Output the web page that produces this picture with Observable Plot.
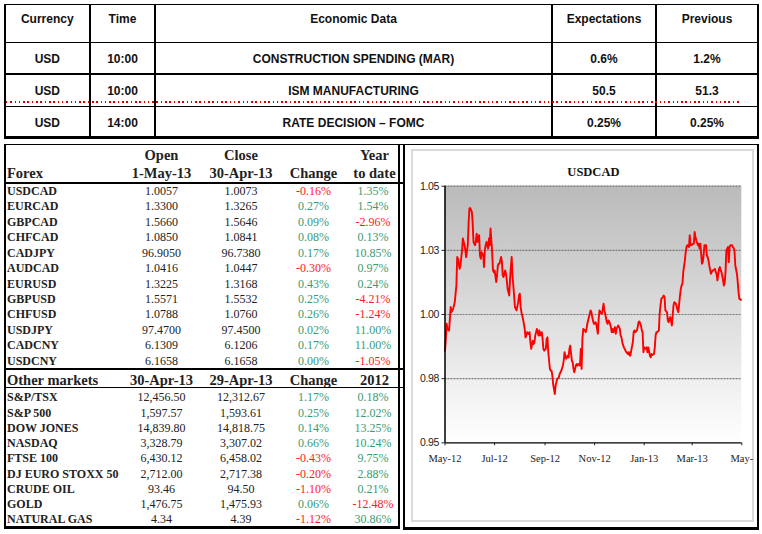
<!DOCTYPE html>
<html><head><meta charset="utf-8">
<script src="https://cdn.jsdelivr.net/npm/d3@7"></script>
<script src="https://cdn.jsdelivr.net/npm/@observablehq/plot@0.6"></script>
<style>
html,body{margin:0;padding:0;background:#fff;}
#page{position:relative;width:762px;height:534px;overflow:hidden;background:#fff;}
.t{position:absolute;white-space:nowrap;line-height:1;}
.l{position:absolute;background:#000;}
#chart{position:absolute;left:413px;top:150px;}
#chart g[aria-label="y-axis tick label"]{letter-spacing:-0.35px;}
</style></head><body><div id="page"></div>
<script>
// ---------- Economic calendar ----------
const econHeaders = ["Currency","Time","Economic Data","Expectations","Previous"];
const econCurrency = ["USD","USD","USD"];
const econTime = ["10:00","10:00","14:00"];
const econEvent = ["CONSTRUCTION SPENDING (MAR)","ISM MANUFACTURING","RATE DECISION – FOMC"];
const econExpectations = ["0.6%","50.5","0.25%"];
const econPrevious = ["1.2%","51.3","0.25%"];

// ---------- Forex ----------
const forexHeader1 = ["","Open","Close","","Year"];
const forexHeader2 = ["Forex","1-May-13","30-Apr-13","Change","to date"];
const forexNames = ["USDCAD","EURCAD","GBPCAD","CHFCAD","CADJPY","AUDCAD","EURUSD","GBPUSD","CHFUSD","USDJPY","CADCNY","USDCNY"];
const forexOpen = [1.0057,1.3300,1.5660,1.0850,96.9050,1.0416,1.3225,1.5571,1.0788,97.4700,6.1309,6.1658];
const forexClose = [1.0073,1.3265,1.5646,1.0841,96.7380,1.0447,1.3168,1.5532,1.0760,97.4500,6.1206,6.1658];
const forexChange = [-0.16,0.27,0.09,0.08,0.17,-0.30,0.43,0.25,0.26,0.02,0.17,0.00];
const forexYtd = [1.35,1.54,-2.96,0.13,10.85,0.97,0.24,-4.21,-1.24,11.00,11.00,-1.05];

// ---------- Other markets ----------
const marketsHeader = ["Other markets","30-Apr-13","29-Apr-13","Change","2012"];
const marketNames = ["S&P/TSX","S&P 500","DOW JONES","NASDAQ","FTSE 100","DJ EURO STOXX 50","CRUDE OIL","GOLD","NATURAL GAS"];
const marketsLatest = [12456.50,1597.57,14839.80,3328.79,6430.12,2712.00,93.46,1476.75,4.34];
const marketsPrior = [12312.67,1593.61,14818.75,3307.02,6458.02,2717.38,94.50,1475.93,4.39];
const marketsChange = [1.17,0.25,0.14,0.66,-0.43,-0.20,-1.10,0.06,-1.12];
const markets2012 = [0.18,12.02,13.25,10.24,9.75,2.88,0.21,-12.48,30.86];

// ---------- USDCAD chart: [day of month, rate] ----------
const usdcadTitle = "USDCAD";
const may12 = [[1,0.9859],[2,0.9905],[3,0.9964],[4,0.9944],[6,0.9937],[7,0.9983],[8,1.0029],[9,1.0009],[11,1.0022],[13,1.0048],[15,1.0113],[16,1.0224],[17,1.0217],[19,1.0178],[20,1.0191],[22,1.025],[23,1.0296],[25,1.027],[26,1.025],[27,1.0224],[29,1.027],[30,1.0354],[31,1.0413]];
const jun12 = [[1,1.0415],[3,1.04],[4,1.0361],[5,1.0283],[7,1.027],[8,1.0289],[9,1.0315],[10,1.0283],[12,1.0309],[13,1.023],[14,1.0217],[15,1.0243],[17,1.023],[18,1.0185],[19,1.025],[20,1.027],[21,1.0283],[23,1.0257],[24,1.0296],[25,1.027],[26,1.0335],[28,1.0243],[29,1.0172],[30,1.0165]];
const jul12 = [[1,1.0172],[3,1.0126],[4,1.0152],[5,1.0191],[6,1.0198],[7,1.0198],[9,1.0224],[10,1.0204],[11,1.0152],[12,1.0146],[14,1.0172],[15,1.0159],[16,1.0133],[17,1.01],[19,1.0074],[20,1.0139],[21,1.0185],[22,1.0224],[23,1.0152],[25,1.0074],[26,1.0029],[27,1.0022],[28,1.0016],[30,1.0048],[31,1.0074]];
const aug12 = [[1,1.0081],[2,1.0029],[3,1.0009],[4,0.9996],[6,0.9964],[7,0.9944],[8,0.9911],[9,0.9918],[10,0.9931],[12,0.9924],[13,0.9931],[14,0.9892],[15,0.9866],[17,0.9898],[18,0.9885],[19,0.9892],[20,0.9918],[22,0.9944],[23,0.9931],[24,0.9918],[25,0.9938],[26,0.9918],[28,0.9931],[29,0.9905],[30,0.9866],[31,0.9859]];
const sep12 = [[2,0.9866],[3,0.9905],[4,0.9911],[5,0.9853],[7,0.9788],[8,0.9781],[9,0.9781],[10,0.9762],[11,0.9729],[13,0.969],[14,0.9723],[15,0.9736],[16,0.9749],[18,0.9755],[19,0.9768],[20,0.9775],[21,0.9781],[23,0.9801],[24,0.982],[25,0.9853],[26,0.984],[27,0.9827],[29,0.984],[30,0.9833]];
const oct12 = [[1,0.9866],[2,0.9879],[4,0.982],[5,0.9814],[6,0.9788],[7,0.9775],[9,0.9801],[10,0.9807],[11,0.9801],[12,0.9807],[14,0.9801],[15,0.9866],[16,0.9788],[17,0.9905],[18,0.9944],[20,0.9938],[21,0.9931],[22,0.9944],[23,0.9964],[25,0.999],[26,1.0003],[27,1.0016],[28,1.0009],[29,0.999],[31,0.9964]];
const nov12 = [[1,0.9964],[2,0.997],[3,0.9964],[5,0.9925],[6,0.9983],[7,1.0016],[8,1.0009],[10,1.0003],[11,1.0022],[12,1.0042],[13,1.0016],[14,1.0003],[16,0.997],[17,0.9964],[18,0.9977],[19,0.9973],[21,0.9951],[22,0.9931],[23,0.9944],[24,0.9931],[26,0.9951],[27,0.9925],[28,0.9944],[29,0.9951],[30,0.9957]];
const dec12 = [[2,0.9944],[3,0.9918],[4,0.9911],[5,0.9892],[7,0.9872],[8,0.9866],[9,0.9859],[10,0.9853],[12,0.9846],[13,0.9853],[14,0.984],[15,0.984],[16,0.9859],[18,0.9892],[19,0.9931],[20,0.9938],[21,0.9931],[23,0.9938],[24,0.9951],[25,0.997],[26,0.9973],[28,0.9957],[29,0.9938],[30,0.9931],[31,0.9853]];
const jan13 = [[1,0.9872],[3,0.9866],[4,0.9872],[5,0.9853],[6,0.9872],[8,0.984],[9,0.9833],[10,0.9846],[11,0.9842],[13,0.9846],[14,0.9872],[15,0.9918],[16,0.9931],[17,0.9931],[19,0.9938],[20,1.0003],[21,1.0035],[22,1.0061],[24,1.0068],[25,1.0074],[26,1.0068],[27,1.0016],[29,1.0009],[30,0.9977],[31,0.997]];
const feb13 = [[1,0.9983],[2,0.999],[4,0.9957],[5,0.9996],[6,1.0035],[7,1.0048],[9,1.0042],[10,1.0029],[11,1.0016],[12,1.0009],[14,1.0074],[15,1.01],[16,1.0113],[17,1.012],[18,1.0165],[20,1.0211],[21,1.0243],[22,1.0263],[23,1.027],[25,1.0263],[26,1.0309],[27,1.027],[28,1.027]];
const mar13 = [[2,1.0276],[3,1.0276],[4,1.0322],[5,1.0302],[6,1.0289],[8,1.027],[9,1.0276],[10,1.0257],[11,1.0276],[13,1.0198],[14,1.0204],[15,1.023],[16,1.027],[18,1.027],[19,1.023],[20,1.0224],[21,1.0211],[22,1.0191],[24,1.0159],[25,1.0165],[26,1.0172],[27,1.0172],[29,1.0178],[30,1.0165],[31,1.0159]];
const apr13 = [[1,1.0133],[3,1.0178],[4,1.0185],[5,1.0172],[6,1.0165],[7,1.0152],[9,1.0113],[10,1.0126],[11,1.0165],[12,1.025],[14,1.0263],[15,1.0204],[16,1.0263],[17,1.027],[19,1.027],[20,1.0263],[21,1.0259],[22,1.025],[23,1.0191],[25,1.0159],[26,1.0126],[27,1.0087],[28,1.0061],[30,1.0057]];
const usdcadMonths = [[2012,4,may12],[2012,5,jun12],[2012,6,jul12],[2012,7,aug12],[2012,8,sep12],[2012,9,oct12],[2012,10,nov12],[2012,11,dec12],[2013,0,jan13],[2013,1,feb13],[2013,2,mar13],[2013,3,apr13]];
const yDomain = [0.95, 1.05];
const yTicks = [0.95, 0.975, 1.0, 1.025, 1.05];
const yTickLabels = ["0.95","0.98","1.00","1.03","1.05"];
const xDomain = ["2012-05-01","2013-05-01"];
const xTicks = ["2012-05-01","2012-07-01","2012-09-01","2012-11-01","2013-01-01","2013-03-01","2013-05-01"];
const xTickLabels = ["May-12","Jul-12","Sep-12","Nov-12","Jan-13","Mar-13","May-"];

// ---------- helpers ----------
const page = document.getElementById("page");
const SANS = "'Liberation Sans', Arial, sans-serif";
const SERIF = "'Liberation Serif', 'Times New Roman', serif";
const GREEN = "#3a9a72", RED = "#ff1a1a";
function txt(x, y, s, o) {
  const d = document.createElement("div");
  d.className = "t"; d.textContent = s;
  d.style.left = x + "px"; d.style.top = y + "px";
  d.style.fontFamily = o.family; d.style.fontSize = o.size + "px";
  d.style.fontWeight = o.weight || "normal"; d.style.color = o.color || "#111";
  d.style.lineHeight = "1";
  d.style.transform = o.align === "left" ? "translateY(-50%)" : "translate(-50%,-50%)";
  page.appendChild(d);
}
function hl(x1, x2, y, w, c) {
  const d = document.createElement("div"); d.className = "l";
  d.style.left = x1 + "px"; d.style.width = (x2 - x1) + "px";
  d.style.top = (y - w / 2) + "px"; d.style.height = w + "px";
  if (c) d.style.background = c;
  page.appendChild(d);
}
function vl(x, y1, y2, w) {
  const d = document.createElement("div"); d.className = "l";
  d.style.left = (x - w / 2) + "px"; d.style.width = w + "px";
  d.style.top = y1 + "px"; d.style.height = (y2 - y1) + "px";
  page.appendChild(d);
}

// ---------- top table ----------
const topCols = [47.3, 122.5, 353.5, 604, 707];
const topRowsY = [59.3, 90.7, 123.3];
econHeaders.forEach((h, i) => txt(topCols[i], 18.5, h, {family: SANS, size: 12, weight: "bold"}));
const econCols = [econCurrency, econTime, econEvent, econExpectations, econPrevious];
topRowsY.forEach((y, r) => econCols.forEach((col, c) => txt(topCols[c], y, col[r], {family: SANS, size: 12, weight: "bold"})));
[4.5, 42.3, 74, 106.7].forEach(y => hl(3.7, 759.3, y, 1.5));
hl(3.7, 759.3, 137.7, 2.7);
[4.7, 90, 155, 552.3, 656, 758.3].forEach(x => vl(x, 3.8, 139, 2));
{
  const d = document.createElement("div"); d.className = "l";
  d.style.left = "6px"; d.style.width = "735px"; d.style.top = "101px"; d.style.height = "1.5px";
  d.style.background = "repeating-linear-gradient(to right, #d40000 0 1.5px, transparent 1.5px 4.3px)";
  page.appendChild(d);
}

// ---------- lower-left tables ----------
const colX = [7, 161.5, 241, 313.5, 373];
forexHeader1.forEach((h, i) => { if (h) txt(colX[i] + (i === 4 ? 1.5 : 0), 155, h, {family: SERIF, size: 14.5, weight: "bold", color: "#222"}); });
forexHeader2.forEach((h, i) => txt(colX[i] + (i === 4 ? 1.5 : 0), 173, h, {family: SERIF, size: 14.5, weight: "bold", color: "#222", align: i === 0 ? "left" : "center"}));
forexNames.forEach((n, i) => {
  const y = 191 + i * 15.43;
  txt(colX[0], y, n, {family: SERIF, size: 12, weight: "bold", color: "#222", align: "left"});
  txt(colX[1], y, forexOpen[i].toFixed(4), {family: SERIF, size: 12, color: "#222"});
  txt(colX[2], y, forexClose[i].toFixed(4), {family: SERIF, size: 12, color: "#222"});
  txt(colX[3], y, forexChange[i].toFixed(2) + "%", {family: SERIF, size: 12, color: forexChange[i] < 0 ? RED : GREEN});
  txt(colX[4], y, forexYtd[i].toFixed(2) + "%", {family: SERIF, size: 12, color: forexYtd[i] < 0 ? RED : GREEN});
});
marketsHeader.forEach((h, i) => txt(colX[i] + (i === 4 ? 1.5 : 0), 380, h, {family: SERIF, size: 14.5, weight: "bold", color: "#222", align: i === 0 ? "left" : "center"}));
const fmt2 = d3.format(",.2f");
marketNames.forEach((n, i) => {
  const y = 397.3 + i * 15.25;
  txt(colX[0], y, n, {family: SERIF, size: 12, weight: "bold", color: "#222", align: "left"});
  txt(colX[1], y, fmt2(marketsLatest[i]), {family: SERIF, size: 12, color: "#222"});
  txt(colX[2], y, fmt2(marketsPrior[i]), {family: SERIF, size: 12, color: "#222"});
  txt(colX[3], y, marketsChange[i].toFixed(2) + "%", {family: SERIF, size: 12, color: marketsChange[i] < 0 ? RED : GREEN});
  txt(colX[4], y, markets2012[i].toFixed(2) + "%", {family: SERIF, size: 12, color: markets2012[i] < 0 ? RED : GREEN});
});
hl(3.7, 759.3, 144.4, 1.5);
vl(4.7, 144, 528.5, 1.8);
vl(398.8, 144, 528.5, 2);
hl(3.7, 404, 182.7, 2);
hl(3.7, 404, 368.7, 2.3);
hl(3.7, 404, 387.6, 1.3);
hl(3.7, 399.8, 527.6, 2.4);

// ---------- chart frame ----------
vl(403.8, 144, 529.5, 2);
vl(758.3, 144, 529.5, 2);
hl(403, 759.3, 528.4, 2.3);
{
  const d = document.createElement("div");
  d.style.cssText = "position:absolute;left:411px;top:149px;width:343px;height:373px;border:2.5px solid #dadada;box-sizing:border-box;";
  page.appendChild(d);
}

// ---------- USDCAD chart (Observable Plot) ----------
const usdcad = [];
for (const [yr, mo, arr] of usdcadMonths) for (const [day, v] of arr) usdcad.push({date: new Date(Date.UTC(yr, mo, day)), value: v});
const xTickDates = xTicks.map(s => new Date(s + "T00:00:00Z"));
const xLabelMap = new Map(xTickDates.map((d, i) => [+d, xTickLabels[i]]));
const yLabelMap = new Map(yTicks.map((v, i) => [v, yTickLabels[i]]));

function background(index, scales, values, dims) {
  const g = d3.create("svg:g");
  const grad = g.append("defs").append("linearGradient").attr("id", "usdcadBg")
    .attr("x1", 0).attr("y1", 0).attr("x2", 0).attr("y2", 1);
  grad.append("stop").attr("offset", "0%").attr("stop-color", "#bababa");
  grad.append("stop").attr("offset", "100%").attr("stop-color", "#ffffff");
  g.append("rect")
    .attr("x", dims.marginLeft).attr("y", dims.marginTop)
    .attr("width", dims.width - dims.marginLeft - dims.marginRight)
    .attr("height", dims.height - dims.marginTop - dims.marginBottom)
    .attr("fill", "url(#usdcadBg)");
  return g.node();
}

const chart = Plot.plot({
  width: 339, height: 370,
  marginLeft: 31.5, marginRight: 10.7, marginTop: 35.7, marginBottom: 77.7,
  style: {background: "transparent", overflow: "visible"},
  x: {type: "utc", domain: xDomain.map(s => new Date(s + "T00:00:00Z")), label: null},
  y: {domain: yDomain, label: null},
  marks: [
    background,
    Plot.ruleY(yTicks.filter(v => v > yDomain[0]), {stroke: "#777", strokeWidth: 1.2, strokeDasharray: "2,1"}),
    Plot.lineY(usdcad, {x: "date", y: "value", stroke: "#ff0000", strokeWidth: 1.9}),
    Plot.ruleY([yDomain[0]], {stroke: "#000", strokeWidth: 1.3}),
    Plot.ruleX([new Date(xDomain[0] + "T00:00:00Z")], {stroke: "#000", strokeWidth: 1.5}),
    Plot.axisY({ticks: yTicks, tickFormat: d => yLabelMap.get(d), tickSize: 3, tickPadding: 3, fontSize: 10.5, fontFamily: "Liberation Sans", label: null, color: "#222"}),
    Plot.axisX({ticks: xTickDates, tickFormat: d => xLabelMap.get(+d), tickSize: 3, tickPadding: 9, fontSize: 10.5, fontFamily: "Liberation Serif", label: null, color: "#222"}),
    Plot.text([usdcadTitle], {frameAnchor: "top", lineAnchor: "middle", dy: -14, fontSize: 12.5, fontWeight: "bold", fontFamily: "Liberation Serif", fill: "#111"})
  ]
});
chart.id = "chart";
page.appendChild(chart);
</script></body></html>
